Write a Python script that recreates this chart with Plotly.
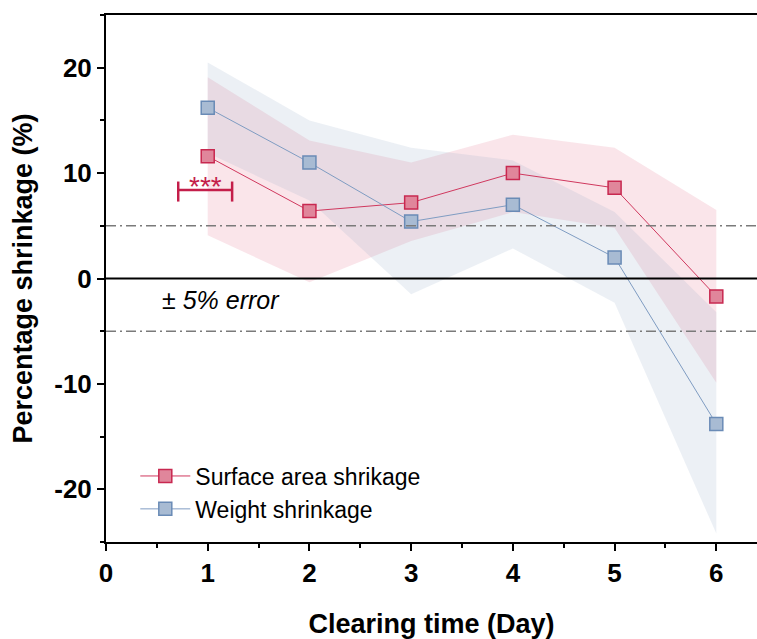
import plotly.graph_objects as go

days = [1, 2, 3, 4, 5, 6]
surface = [11.6, 6.4, 7.2, 10.0, 8.6, -1.7]
surface_upper = [19.1, 13.1, 11.0, 13.65, 12.4, 6.5]
surface_lower = [4.1, -0.35, 3.55, 6.3, 4.8, -9.9]
weight = [16.2, 11.0, 5.4, 7.0, 2.0, -13.8]
weight_upper = [20.5, 15.0, 12.4, 11.2, 6.3, -3.2]
weight_lower = [11.9, 7.4, -1.5, 2.85, -2.3, -24.2]

x_ticks = [0, 1, 2, 3, 4, 5, 6]
x_labels = ["0", "1", "2", "3", "4", "5", "6"]
y_ticks = [-20, -10, 0, 10, 20]
y_labels = ["-20", "-10", "0", "10", "20"]

RED_LINE = "#D0385E"
RED_FILL = "#E0869B"
RED_EDGE = "#C82850"
BLUE_LINE = "#7F9CC2"
BLUE_FILL = "#A8BBD3"
BLUE_EDGE = "#6A8BB6"
SIG = "#C41E4A"
FONT = "Liberation Sans, Arial, sans-serif"

fig = go.Figure()

fig.add_trace(go.Scatter(
    x=days + days[::-1], y=surface_upper + surface_lower[::-1],
    fill="toself", fillcolor="rgba(225,110,140,0.18)", line=dict(width=0),
    mode="lines", hoverinfo="skip", showlegend=False))
fig.add_trace(go.Scatter(
    x=days + days[::-1], y=weight_upper + weight_lower[::-1],
    fill="toself", fillcolor="rgba(150,170,200,0.18)", line=dict(width=0),
    mode="lines", hoverinfo="skip", showlegend=False))

fig.add_trace(go.Scatter(
    x=days, y=surface, mode="lines+markers", name="Surface area shrikage",
    line=dict(color=RED_LINE, width=1),
    marker=dict(symbol="square", size=13, color=RED_FILL,
                line=dict(color=RED_EDGE, width=1.5))))
fig.add_trace(go.Scatter(
    x=days, y=weight, mode="lines+markers", name="Weight shrinkage",
    line=dict(color=BLUE_LINE, width=1),
    marker=dict(symbol="square", size=13, color=BLUE_FILL,
                line=dict(color=BLUE_EDGE, width=1.5))))

# reference lines
fig.add_shape(type="line", xref="x domain", yref="y", x0=0, x1=1, y0=0, y1=0,
              line=dict(color="black", width=2))
for yv in (5, -5):
    fig.add_shape(type="line", xref="x domain", yref="y", x0=0, x1=1, y0=yv, y1=yv,
                  line=dict(color="#7a7a7a", width=1.5, dash="10px,4px,2px,4px"))

# significance bracket
fig.add_shape(type="line", x0=0.71, x1=1.24, y0=8.4, y1=8.4, line=dict(color=SIG, width=2.5))
fig.add_shape(type="line", x0=0.71, x1=0.71, y0=9.2, y1=7.3, line=dict(color=SIG, width=2.5))
fig.add_shape(type="line", x0=1.24, x1=1.24, y0=9.2, y1=7.3, line=dict(color=SIG, width=2.5))
fig.add_annotation(x=0.975, y=7.05, text="***", showarrow=False, yanchor="bottom",
                   font=dict(family=FONT, size=28, color=SIG))

fig.add_annotation(x=0.53, y=-2.0, text="± <i>5% error</i>", showarrow=False,
                   xanchor="left", yanchor="middle",
                   font=dict(family=FONT, size=25, color="black"))

fig.update_layout(
    width=757, height=639,
    margin=dict(l=106, r=0, t=15, b=97),
    plot_bgcolor="white", paper_bgcolor="white",
    font=dict(family=FONT, color="black"),
    legend=dict(x=0.045, y=0.166, xanchor="left", yanchor="top",
                bgcolor="rgba(0,0,0,0)", font=dict(family=FONT, size=23),
                tracegroupgap=0, itemwidth=50),
    xaxis=dict(range=[0, 6.4], tickvals=x_ticks, ticktext=x_labels, showgrid=False, zeroline=False,
               showline=True, linecolor="black", linewidth=2, mirror=True,
               ticks="outside", ticklen=7, tickwidth=2, tickcolor="black",
               minor=dict(dtick=0.5, tick0=0, ticks="outside", ticklen=4, tickwidth=2, tickcolor="black"),
               tickfont=dict(family=FONT, size=26, weight="bold"),
               title=dict(text="Clearing time (Day)", font=dict(family=FONT, size=27, weight="bold"), standoff=29)),
    yaxis=dict(range=[-25, 25], tickvals=y_ticks, ticktext=y_labels, showgrid=False, zeroline=False,
               showline=True, linecolor="black", linewidth=2,
               ticks="outside", ticklen=7, tickwidth=2, tickcolor="black",
               minor=dict(dtick=5, tick0=0, ticks="outside", ticklen=4, tickwidth=2, tickcolor="black"),
               tickfont=dict(family=FONT, size=26, weight="bold"),
               title=dict(text="Percentage shrinkage (%)", font=dict(family=FONT, size=27, weight="bold"), standoff=14)),
)

fig.write_html("out.html")
